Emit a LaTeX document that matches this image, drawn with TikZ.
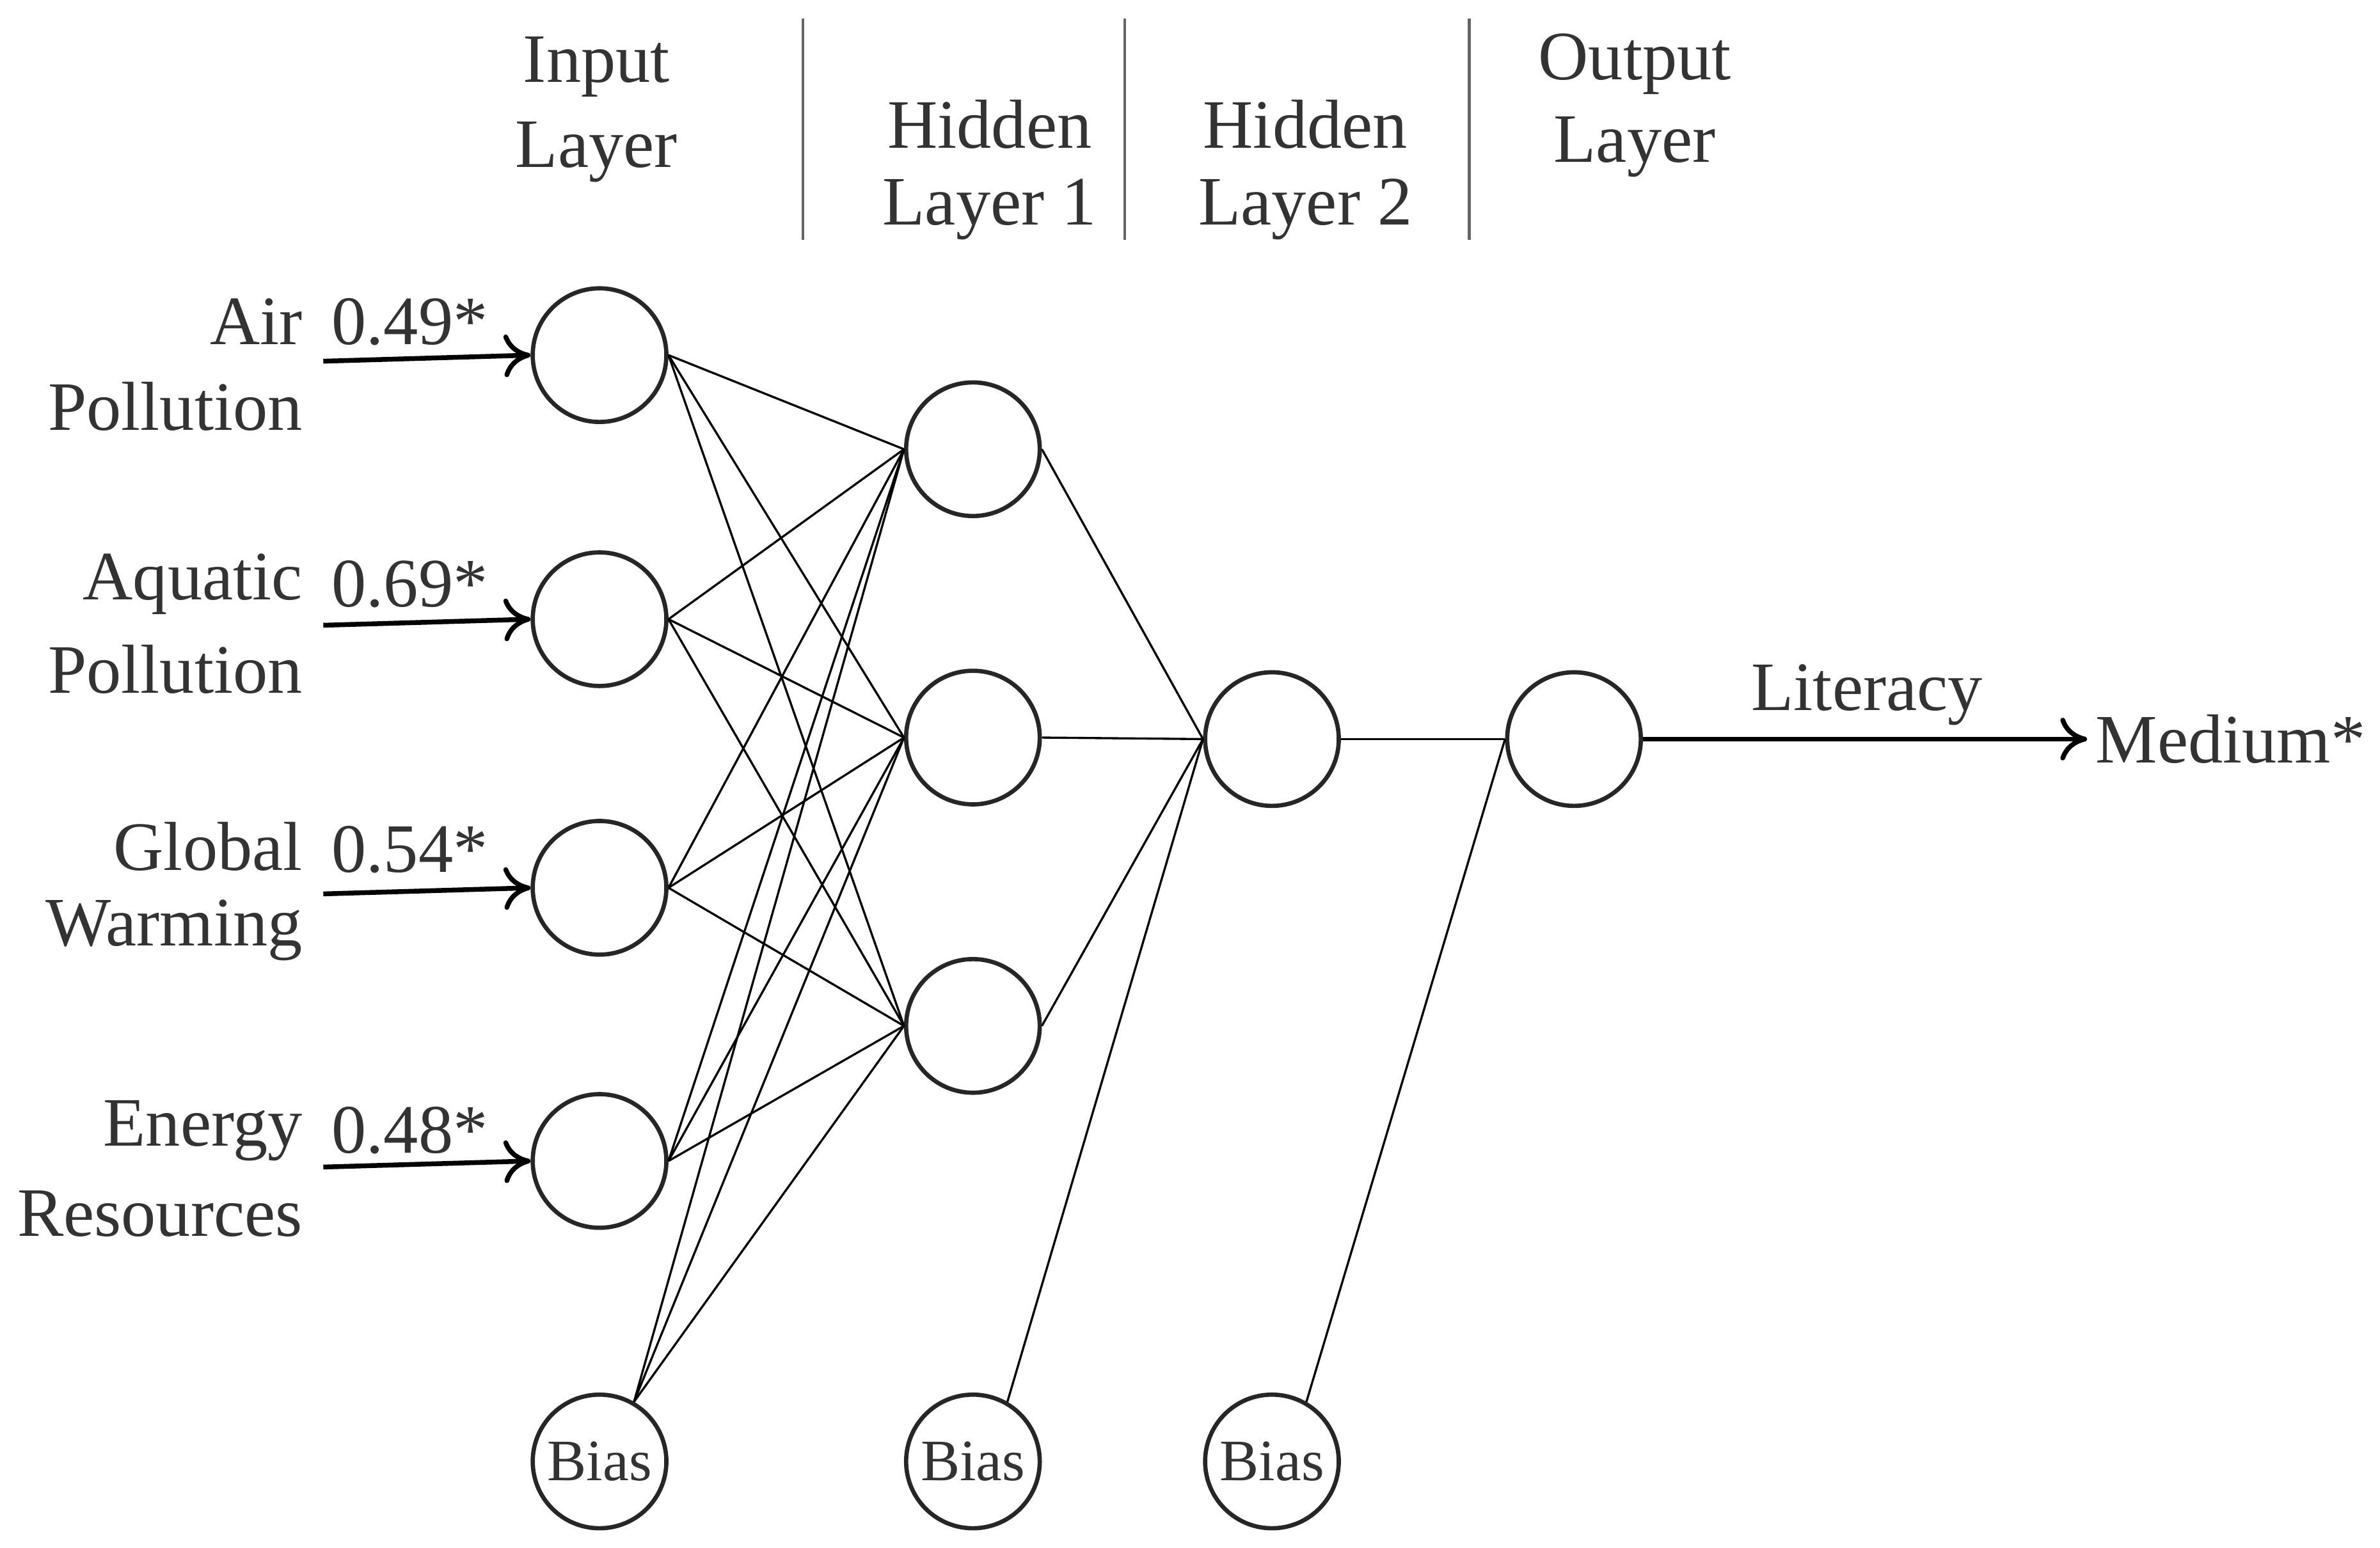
\documentclass[tikz,border=0pt]{standalone}
\usepackage{fontspec}
\setmainfont{Liberation Serif}
\usetikzlibrary{arrows.meta}
\begin{document}
\begin{tikzpicture}[x=0.01cm,y=-0.01cm,
  neuron/.style={circle,draw=black!85,line width=0.8pt,minimum size=0.88cm,inner sep=0pt},
  edge/.style={line width=0.4pt},
  lbl/.style={text=black!80,font=\fontsize{13}{15}\selectfont,inner sep=0pt},
  arr/.style={line width=0.9pt,-{To[length=5pt,width=8pt]}},
  sep/.style={line width=0.5pt,draw=black!60}]
\useasboundingbox (0,0) rectangle (1568,1020);
% input nodes
\node[neuron] (i1) at (395,234) {};
\node[neuron] (i2) at (395,408) {};
\node[neuron] (i3) at (395,585) {};
\node[neuron] (i4) at (395,765) {};
\node[neuron,font=\fontsize{11}{13}\selectfont,text=black!80] (ib) at (395,963) {Bias};
\node[neuron] (h1) at (641,296) {};
\node[neuron] (h2) at (641,486) {};
\node[neuron] (h3) at (641,676) {};
\node[neuron,font=\fontsize{11}{13}\selectfont,text=black!80] (hb) at (641,963) {Bias};
\node[neuron] (g) at (838,487) {};
\node[neuron,font=\fontsize{11}{13}\selectfont,text=black!80] (gb) at (838,963) {Bias};
\node[neuron] (o) at (1037,487) {};
% edges
\foreach \a in {i1,i2,i3,i4}
  \foreach \b in {h1,h2,h3}
    \draw[edge] (\a.east) -- (\b.west);
\foreach \b in {h1,h2,h3}
  \draw[edge] (ib.60) -- (\b.west);
\foreach \a in {h1,h2,h3}
  \draw[edge] (\a.east) -- (g.west);
\draw[edge] (hb.60) -- (g.west);
\draw[edge] (g.east) -- (o.west);
\draw[edge] (gb.60) -- (o.west);
% input arrows and labels
\coordinate (s1) at (213,238); \coordinate (s2) at (213,412);
\coordinate (s3) at (213,589); \coordinate (s4) at (213,769);
\draw[arr] (s1) -- (i1.west);
\draw[arr] (s2) -- (i2.west);
\draw[arr] (s3) -- (i3.west);
\draw[arr] (s4) -- (i4.west);
\node[lbl] (w1) at (270,212) {0.49*};
\node[lbl] (w2) at (270,385) {0.69*};
\node[lbl] (w3) at (270,560) {0.54*};
\node[lbl] (w4) at (270,745) {0.48*};
\node[lbl,anchor=east] (n1a) at (200,212) {Air};
\node[lbl,anchor=east] (n1b) at (200,268) {Pollution};
\node[lbl,anchor=east] (n2a) at (200,385) {Aquatic};
\node[lbl,anchor=east] (n2b) at (200,441) {Pollution};
\node[lbl,anchor=east] (n3a) at (200,558) {Global};
\node[lbl,anchor=east] (n3b) at (200,613) {Warming};
\node[lbl,anchor=east] (n4a) at (200,745) {Energy};
\node[lbl,anchor=east] (n4b) at (200,800) {Resources};
% output
\coordinate (oe) at (1375,487);
\draw[arr] (o.east) -- (oe);
\node[lbl] (lit) at (1230,458) {Literacy};
\node[lbl,anchor=west] (med) at (1380,487) {Medium*};
% headers
\node[lbl] (t1a) at (393,44) {Input};
\node[lbl] (t1b) at (393,100) {Layer};
\node[lbl] (t2a) at (652,82) {Hidden};
\node[lbl] (t2b) at (652,138) {Layer 1};
\node[lbl] (t3a) at (860,82) {Hidden};
\node[lbl] (t3b) at (860,138) {Layer 2};
\node[lbl] (t4a) at (1077,42) {Output};
\node[lbl] (t4b) at (1077,97) {Layer};
\draw[sep] (529,12) -- (529,158);
\draw[sep] (741,12) -- (741,158);
\draw[sep] (968,12) -- (968,158);
\end{tikzpicture}
\end{document}
